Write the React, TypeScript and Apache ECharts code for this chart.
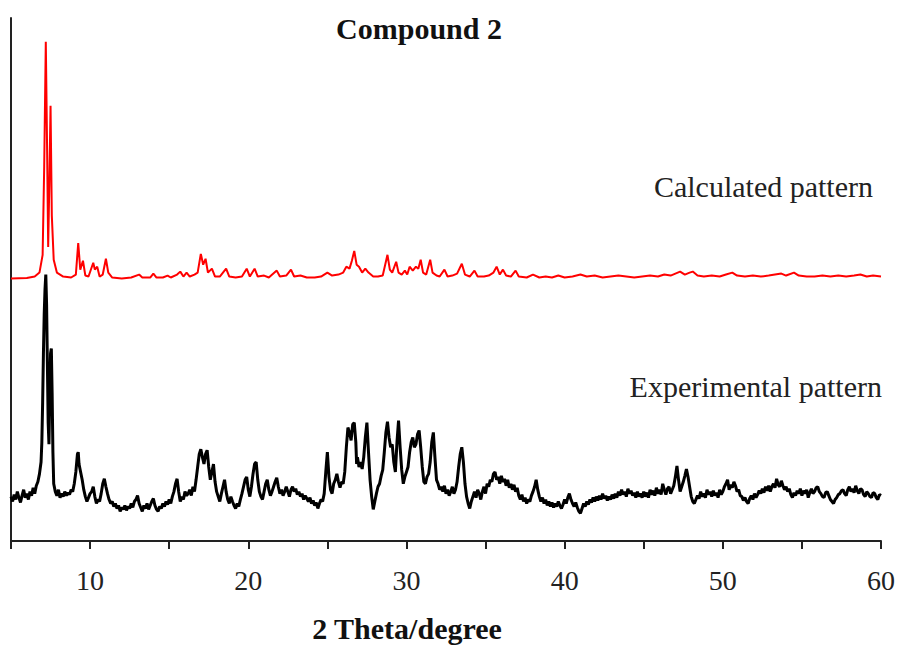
import React, { useEffect, useRef } from "react";
import * as echarts from "echarts";

// 2θ (degree) vs intensity (arbitrary units, offset patterns)
const calculatedPattern: [number, number][] = [
  [5, 266], [6, 266.5], [6.5, 268], [6.8, 272], [7.0, 290], [7.1, 380], [7.2, 506], [7.28, 400], [7.35, 298],
  [7.42, 360], [7.5, 441], [7.58, 330], [7.7, 285], [7.9, 272], [8.3, 268], [8.8, 267], [9.1, 270], [9.25, 302],
  [9.38, 275], [9.55, 284], [9.7, 269], [9.9, 268], [10.2, 282], [10.3, 275], [10.45, 278], [10.6, 268], [10.8, 270],
  [11.0, 286], [11.15, 272], [11.4, 267], [12.0, 266], [12.6, 267], [13.1, 270], [13.3, 267], [13.8, 267], [14.0, 271],
  [14.2, 267], [14.6, 267], [14.9, 269], [15.1, 267], [15.5, 270], [15.7, 273], [15.9, 268], [16.1, 272], [16.3, 268],
  [16.6, 270], [16.8, 272], [17.0, 291], [17.15, 280], [17.3, 286], [17.45, 272], [17.7, 276], [17.9, 268], [18.2, 268],
  [18.6, 276], [18.8, 268], [19.2, 267], [19.6, 268], [19.9, 276], [20.1, 268], [20.4, 276], [20.6, 268], [21.0, 269],
  [21.3, 267], [21.8, 274], [22.0, 268], [22.4, 269], [22.7, 275], [22.9, 268], [23.3, 269], [23.7, 267], [24.2, 267],
  [24.6, 268], [25.0, 272], [25.3, 269], [25.7, 270], [26.0, 272], [26.2, 278], [26.4, 276], [26.55, 284], [26.7, 294],
  [26.85, 280], [27.0, 278], [27.2, 272], [27.4, 276], [27.6, 272], [27.9, 268], [28.2, 268], [28.5, 269], [28.8, 290],
  [28.95, 275], [29.1, 272], [29.35, 283], [29.5, 272], [29.7, 270], [29.9, 274], [30.05, 270], [30.2, 278], [30.4, 274],
  [30.6, 278], [30.75, 276], [30.9, 285], [31.05, 272], [31.25, 270], [31.5, 285], [31.65, 272], [31.9, 269], [32.1, 268],
  [32.4, 275], [32.6, 268], [32.9, 269], [33.2, 271], [33.5, 281], [33.7, 270], [34.0, 268], [34.3, 274], [34.5, 268],
  [34.9, 268], [35.2, 269], [35.5, 272], [35.7, 278], [35.9, 270], [36.1, 275], [36.3, 269], [36.6, 268], [36.9, 274],
  [37.1, 268], [37.6, 267], [38.0, 270], [38.4, 267], [38.8, 268], [39.2, 267], [39.6, 269], [40.0, 267], [40.5, 268],
  [41.0, 270], [41.4, 268], [41.9, 269], [42.4, 267], [42.9, 268], [43.4, 269], [43.9, 268], [44.4, 267], [44.9, 268],
  [45.4, 269], [45.9, 268], [46.3, 270], [46.7, 269], [47.0, 271], [47.3, 273], [47.6, 270], [47.9, 272], [48.1, 273],
  [48.4, 269], [48.8, 268], [49.3, 269], [49.8, 268], [50.2, 270], [50.6, 272], [50.9, 269], [51.4, 268], [51.9, 269],
  [52.4, 268], [52.9, 269], [53.3, 270], [53.7, 271], [54.0, 269], [54.5, 272], [54.8, 269], [55.3, 268], [55.8, 268],
  [56.3, 269], [56.8, 268], [57.3, 269], [57.8, 268], [58.3, 269], [58.7, 270], [59.1, 268], [59.5, 269], [60, 268],
];

const experimentalPattern: [number, number][] = [
  [5, 45], [5.1, 40], [5.2, 47], [5.3, 42], [5.4, 50], [5.5, 44], [5.6, 39], [5.7, 46], [5.8, 52], [5.9, 44],
  [6.0, 48], [6.1, 42], [6.2, 50], [6.3, 46], [6.4, 54], [6.5, 48], [6.6, 56], [6.7, 60], [6.8, 68], [6.9, 80],
  [6.95, 100], [7.0, 140], [7.05, 190], [7.1, 230], [7.15, 255], [7.2, 270], [7.25, 240], [7.3, 180], [7.35, 120],
  [7.4, 98], [7.45, 150], [7.5, 190], [7.55, 195], [7.6, 150], [7.65, 90], [7.7, 58], [7.8, 50], [7.9, 46], [8.0, 52],
  [8.1, 44], [8.2, 48], [8.3, 45], [8.4, 50], [8.5, 46], [8.6, 49], [8.7, 47], [8.8, 52], [8.9, 50], [9.0, 58],
  [9.1, 70], [9.2, 88], [9.25, 90], [9.3, 78], [9.4, 70], [9.5, 62], [9.6, 52], [9.7, 45], [9.8, 40], [9.9, 44],
  [10.0, 48], [10.1, 50], [10.2, 55], [10.3, 45], [10.4, 38], [10.5, 42], [10.6, 40], [10.7, 48], [10.8, 58], [10.9, 63],
  [11.0, 55], [11.1, 48], [11.2, 42], [11.3, 38], [11.4, 40], [11.5, 35], [11.6, 38], [11.7, 33], [11.8, 36], [11.9, 30],
  [12.0, 34], [12.1, 32], [12.2, 36], [12.3, 31], [12.4, 35], [12.5, 33], [12.6, 38], [12.7, 34], [12.8, 40], [12.9, 42],
  [13.0, 46], [13.1, 38], [13.2, 34], [13.3, 30], [13.4, 36], [13.5, 33], [13.6, 38], [13.7, 32], [13.8, 36], [13.9, 40],
  [14.0, 43], [14.1, 36], [14.2, 32], [14.3, 30], [14.4, 35], [14.5, 33], [14.6, 38], [14.7, 35], [14.8, 40], [14.9, 37],
  [15.0, 42], [15.1, 38], [15.2, 45], [15.3, 50], [15.4, 58], [15.5, 63], [15.6, 50], [15.7, 40], [15.8, 45], [15.9, 42],
  [16.0, 50], [16.1, 46], [16.2, 48], [16.3, 52], [16.4, 46], [16.5, 55], [16.6, 50], [16.7, 62], [16.8, 75], [16.9, 88],
  [17.0, 93], [17.1, 85], [17.2, 78], [17.3, 88], [17.4, 92], [17.5, 75], [17.6, 62], [17.7, 70], [17.8, 78], [17.9, 60],
  [18.0, 50], [18.1, 45], [18.2, 40], [18.3, 48], [18.4, 55], [18.5, 62], [18.6, 50], [18.7, 42], [18.8, 38], [18.9, 45],
  [19.0, 40], [19.1, 36], [19.2, 33], [19.3, 38], [19.4, 35], [19.5, 42], [19.6, 48], [19.7, 55], [19.8, 62], [19.9, 65],
  [20.0, 52], [20.1, 45], [20.2, 55], [20.3, 68], [20.4, 78], [20.5, 80], [20.6, 62], [20.7, 50], [20.8, 45], [20.9, 42],
  [21.0, 50], [21.1, 58], [21.2, 62], [21.3, 52], [21.4, 46], [21.5, 50], [21.6, 55], [21.7, 60], [21.8, 64], [21.9, 55],
  [22.0, 48], [22.1, 52], [22.2, 46], [22.3, 50], [22.4, 55], [22.5, 50], [22.6, 45], [22.7, 52], [22.8, 55], [22.9, 50],
  [23.0, 53], [23.1, 47], [23.2, 50], [23.3, 45], [23.4, 48], [23.5, 42], [23.6, 46], [23.7, 43], [23.8, 40], [23.9, 44],
  [24.0, 38], [24.1, 41], [24.2, 36], [24.3, 39], [24.4, 33], [24.5, 38], [24.6, 42], [24.7, 40], [24.8, 48], [24.9, 70],
  [25.0, 90], [25.1, 65], [25.2, 52], [25.3, 48], [25.4, 58], [25.5, 62], [25.6, 68], [25.7, 60], [25.8, 54], [25.9, 60],
  [26.0, 58], [26.1, 70], [26.2, 95], [26.3, 115], [26.4, 110], [26.5, 102], [26.6, 118], [26.7, 120], [26.8, 100],
  [26.85, 78], [26.9, 85], [27.0, 75], [27.1, 80], [27.2, 73], [27.3, 85], [27.4, 105], [27.5, 120], [27.6, 90],
  [27.7, 62], [27.8, 45], [27.9, 32], [28.0, 40], [28.1, 48], [28.2, 55], [28.3, 58], [28.4, 66], [28.5, 72], [28.6, 90],
  [28.7, 110], [28.8, 121], [28.9, 105], [29.0, 95], [29.1, 98], [29.2, 80], [29.3, 70], [29.4, 100], [29.5, 122],
  [29.6, 95], [29.7, 72], [29.8, 58], [29.9, 65], [30.0, 70], [30.1, 75], [30.2, 90], [30.3, 100], [30.4, 105], [30.5, 95],
  [30.6, 98], [30.7, 108], [30.8, 112], [30.9, 95], [31.0, 75], [31.1, 60], [31.2, 58], [31.3, 65], [31.4, 68], [31.5, 80],
  [31.6, 100], [31.7, 110], [31.8, 85], [31.9, 62], [32.0, 58], [32.1, 52], [32.2, 55], [32.3, 50], [32.4, 56], [32.5, 48],
  [32.6, 52], [32.7, 46], [32.8, 50], [32.9, 55], [33.0, 48], [33.1, 52], [33.2, 60], [33.3, 75], [33.4, 88], [33.5, 95],
  [33.6, 80], [33.7, 58], [33.8, 45], [33.9, 38], [34.0, 33], [34.1, 40], [34.2, 45], [34.3, 50], [34.4, 44], [34.5, 52],
  [34.6, 48], [34.7, 42], [34.8, 50], [34.9, 55], [35.0, 48], [35.1, 58], [35.2, 55], [35.3, 62], [35.4, 60], [35.5, 68],
  [35.6, 70], [35.7, 62], [35.8, 65], [35.9, 58], [36.0, 66], [36.1, 60], [36.2, 63], [36.3, 56], [36.4, 62], [36.5, 54],
  [36.6, 58], [36.7, 52], [36.8, 57], [36.9, 50], [37.0, 54], [37.1, 46], [37.2, 42], [37.3, 47], [37.4, 40], [37.5, 44],
  [37.6, 38], [37.7, 42], [37.8, 40], [37.9, 46], [38.0, 50], [38.1, 55], [38.2, 62], [38.3, 52], [38.4, 45], [38.5, 40],
  [38.6, 44], [38.7, 38], [38.8, 42], [38.9, 36], [39.0, 40], [39.1, 35], [39.2, 39], [39.3, 34], [39.4, 38], [39.5, 35],
  [39.6, 40], [39.7, 36], [39.8, 33], [39.9, 37], [40.0, 42], [40.1, 38], [40.2, 44], [40.3, 48], [40.4, 42], [40.5, 38],
  [40.6, 35], [40.7, 39], [40.8, 34], [40.9, 30], [41.0, 28], [41.1, 33], [41.2, 38], [41.3, 35], [41.4, 40], [41.5, 37],
  [41.6, 42], [41.7, 39], [41.8, 44], [41.9, 40], [42.0, 45], [42.1, 41], [42.2, 46], [42.3, 42], [42.4, 48], [42.5, 43],
  [42.6, 46], [42.7, 41], [42.8, 45], [42.9, 42], [43.0, 47], [43.1, 43], [43.2, 48], [43.3, 44], [43.4, 50], [43.5, 46],
  [43.6, 52], [43.7, 47], [43.8, 50], [43.9, 45], [44.0, 53], [44.1, 48], [44.2, 51], [44.3, 46], [44.4, 49], [44.5, 44],
  [44.6, 50], [44.7, 45], [44.8, 48], [44.9, 44], [45.0, 50], [45.1, 45], [45.2, 49], [45.3, 44], [45.4, 52], [45.5, 47],
  [45.6, 51], [45.7, 46], [45.8, 54], [45.9, 48], [46.0, 52], [46.1, 47], [46.2, 58], [46.3, 52], [46.4, 47], [46.5, 53],
  [46.6, 55], [46.7, 48], [46.8, 52], [46.9, 56], [47.0, 65], [47.1, 76], [47.2, 62], [47.3, 50], [47.4, 55], [47.5, 60],
  [47.6, 66], [47.7, 73], [47.8, 65], [47.9, 55], [48.0, 45], [48.1, 40], [48.2, 38], [48.3, 42], [48.4, 46], [48.5, 43],
  [48.6, 50], [48.7, 45], [48.8, 48], [48.9, 44], [49.0, 52], [49.1, 47], [49.2, 50], [49.3, 45], [49.4, 51], [49.5, 46],
  [49.6, 49], [49.7, 44], [49.8, 52], [49.9, 47], [50.0, 50], [50.1, 55], [50.2, 58], [50.3, 62], [50.4, 52], [50.5, 57],
  [50.6, 54], [50.7, 60], [50.8, 56], [50.9, 50], [51.0, 52], [51.1, 46], [51.2, 45], [51.3, 41], [51.4, 44], [51.5, 40],
  [51.6, 38], [51.7, 43], [51.8, 46], [51.9, 42], [52.0, 48], [52.1, 44], [52.2, 47], [52.3, 51], [52.4, 48], [52.5, 53],
  [52.6, 49], [52.7, 55], [52.8, 51], [52.9, 56], [53.0, 50], [53.1, 55], [53.2, 58], [53.3, 54], [53.4, 63], [53.5, 57],
  [53.6, 55], [53.7, 61], [53.8, 56], [53.9, 52], [54.0, 55], [54.1, 50], [54.2, 53], [54.3, 47], [54.4, 44], [54.5, 49],
  [54.6, 46], [54.7, 51], [54.8, 48], [54.9, 53], [55.0, 46], [55.1, 51], [55.2, 48], [55.3, 52], [55.4, 44], [55.5, 49],
  [55.6, 53], [55.7, 48], [55.8, 50], [55.9, 54], [56.0, 55], [56.1, 50], [56.2, 48], [56.3, 45], [56.4, 44], [56.5, 49],
  [56.6, 50], [56.7, 46], [56.8, 42], [56.9, 40], [57.0, 38], [57.1, 42], [57.2, 44], [57.3, 47], [57.4, 48], [57.5, 51],
  [57.6, 52], [57.7, 48], [57.8, 46], [57.9, 52], [58.0, 55], [58.1, 50], [58.2, 53], [58.3, 49], [58.4, 56], [58.5, 51],
  [58.6, 48], [58.7, 53], [58.8, 52], [58.9, 47], [59.0, 45], [59.1, 50], [59.2, 48], [59.3, 45], [59.4, 44], [59.5, 49],
  [59.6, 48], [59.7, 44], [59.8, 42], [59.9, 47], [60.0, 46],
];

const chartTitle = "Compound 2";
const calculatedLabel = "Calculated pattern";
const experimentalLabel = "Experimental pattern";
const xAxisName = "2 Theta/degree";

const SERIF = '"Liberation Serif", "Times New Roman", serif';

export default function App() {
  const ref = useRef<HTMLDivElement>(null);
  useEffect(() => {
    if (!ref.current) return;
    const chart = echarts.init(ref.current, undefined, { renderer: "svg" });
    chart.setOption({
      animation: false,
      backgroundColor: "#ffffff",
      grid: { left: 11, right: 20, top: 18, bottom: 100 },
      xAxis: {
        type: "value",
        min: 5,
        max: 60,
        interval: 5,
        name: xAxisName,
        nameLocation: "middle",
        nameGap: 72,
        nameTextStyle: {
          fontFamily: SERIF,
          fontWeight: "bold",
          fontSize: 30,
          color: "#111",
          padding: [0, 78, 0, 0],
        },
        axisLine: { onZero: false, lineStyle: { color: "#222", width: 2 } },
        axisTick: { inside: false, length: 8, lineStyle: { color: "#222", width: 2 } },
        axisLabel: {
          margin: 25,
          fontFamily: SERIF,
          fontSize: 28,
          color: "#222",
          formatter: (v: number) => (v % 10 === 0 ? String(v) : ""),
        },
        splitLine: { show: false },
      },
      yAxis: {
        type: "value",
        min: 0,
        max: 530,
        axisLine: { show: true, onZero: false, lineStyle: { color: "#222", width: 2 } },
        axisTick: { show: false },
        axisLabel: { show: false },
        splitLine: { show: false },
      },
      series: [
        {
          name: calculatedLabel,
          type: "line",
          data: calculatedPattern,
          showSymbol: false,
          lineStyle: { color: "#ff0000", width: 2 },
          itemStyle: { color: "#ff0000" },
        },
        {
          name: experimentalLabel,
          type: "line",
          data: experimentalPattern,
          showSymbol: false,
          lineStyle: { color: "#000000", width: 3 },
          itemStyle: { color: "#000000" },
        },
      ],
      graphic: [
        {
          type: "text",
          x: 419,
          y: 28,
          style: {
            text: chartTitle,
            font: `bold 30px ${SERIF}`,
            fill: "#111",
            align: "center",
            verticalAlign: "middle",
          },
        },
        {
          type: "text",
          x: 873,
          y: 186,
          style: {
            text: calculatedLabel,
            font: `30px ${SERIF}`,
            fill: "#222",
            align: "right",
            verticalAlign: "middle",
          },
        },
        {
          type: "text",
          x: 882,
          y: 386,
          style: {
            text: experimentalLabel,
            font: `30px ${SERIF}`,
            fill: "#222",
            align: "right",
            verticalAlign: "middle",
          },
        },
      ],
    });
    return () => chart.dispose();
  }, []);
  return (
    <div
      ref={ref}
      style={{ position: "fixed", left: 0, top: 0, width: 901, height: 648, background: "#fff" }}
    />
  );
}
